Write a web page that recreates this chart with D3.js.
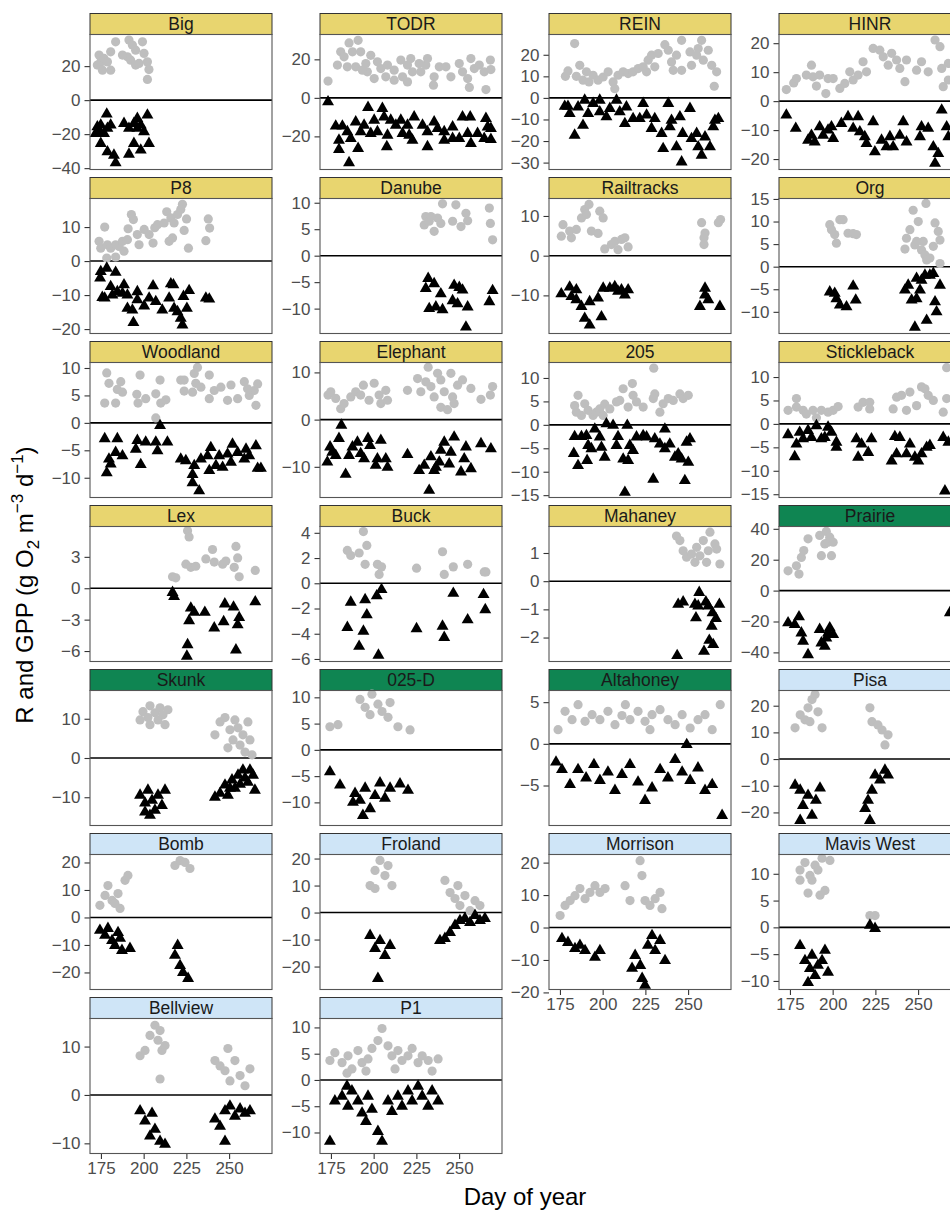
<!DOCTYPE html>
<html>
<head>
<meta charset="utf-8">
<script src="https://cdn.jsdelivr.net/npm/d3@7"></script>
<style>
  body { margin: 0; background: #fff; }
  text { font-family: "Liberation Sans", Arial, sans-serif; }
</style>
</head>
<body>
<svg id="chart" width="950" height="1211"></svg>
<script>
// ---- data: [day of year, g O2 m-3 d-1] ----
const sites = ["Big","TODR","REIN","HINR","P8","Danube","Railtracks","Org","Woodland","Elephant","205","Stickleback",
  "Lex","Buck","Mahaney","Prairie","Skunk","025-D","Altahoney","Pisa","Bomb","Froland","Morrison","Mavis West","Bellview","P1"];
const siteGroup = ["a","a","a","a","a","a","a","a","a","a","a","a","a","a","a","b","b","b","b","c","c","c","c","c","c","c"];
const groupFill = {a: "#E8D56F", b: "#0F8552", c: "#CFE5F7"};
const xLimits = [168.6, 275.1];
const xTicks = [175, 200, 225, 250];

const yLimits = [[-40.8,38.6],[-37.2,32.9],[-33.2,29.4],[-23.6,23],[-21.3,18.4],[-14.7,10.8],[-19.6,14.4],[-14.8,15.1],
  [-13.6,11],[-16.5,12.1],[-15.5,13.3],[-15.7,13.1],[-7,5.9],[-6.2,4.5],[-2.85,1.94],[-45.9,41.5],[-17.2,17.2],
  [-14.4,11.3],[-9.8,6.4],[-24.9,25.7],[-26.2,22.9],[-28.5,21.5],[-19.1,22.5],[-11.6,13.6],[-12.1,15.8],[-14,11.7]];
const yTicks = [[-40,-20,0,20],[-20,0,20],[-30,-20,-10,0,10,20],[-20,-10,0,10,20],[-20,-10,0,10],[-10,-5,0,5,10],
  [-10,0,10],[-10,-5,0,5,10,15],[-10,-5,0,5,10],[-10,0,10],[-15,-10,-5,0,5,10],[-15,-10,-5,0,5,10],[-6,-3,0,3],
  [-6,-4,-2,0,2,4],[-2,-1,0,1],[-40,-20,0,20,40],[-10,0,10],[-10,-5,0,5,10],[-5,0,5],[-20,-10,0,10,20],
  [-20,-10,0,10,20],[-20,-10,0,10,20],[-20,-10,0,10,20],[-10,-5,0,5,10],[-10,0,10],[-10,-5,0,5,10]];

const bigGPP = [[173.9,26.5],[174.9,22.5],[172.9,20.6],[176.8,24.5],[180.7,28.4],[183.6,34.3],[178.8,22.5],[175.9,17.6],[180.7,17.6],[191.4,35.3],[193.4,32.4],[195.3,29.4],[199.3,34.3],[190.5,25.5],[192.4,23.5],[195.3,20.6],[197.3,21.6],[200.2,27.5],[202.2,22.5],[203.1,18],[202.2,12.2],[187.6,26.5]];
const bigR = [[178.4,-8.2],[172.9,-15.7],[174.9,-14.7],[171.9,-19.6],[176.8,-19.6],[180.7,-14.7],[174.9,-25.5],[178.8,-30.4],[182.6,-32.4],[183.6,-36.9],[188.5,-13.7],[191.4,-16.6],[194.3,-13.7],[196.3,-10.8],[196.3,-16.6],[198.3,-14.7],[202.2,-8.8],[200.2,-18.6],[194.3,-25.5],[198.3,-29.4],[203.1,-25.5],[191.4,-31.8],[178.8,-16.6],[173.9,-18.6]];

const todrGPP = [[173.3,8.7],[180.7,23.9],[178.8,17],[182.7,21.3],[185.6,28.5],[190.9,29.9],[187.6,23.9],[192.4,23.9],[189.5,16.1],[195.4,17.8],[198.3,22.1],[196.3,13.5],[200.3,10],[204.2,15.2],[208.1,17],[207.1,10.9],[212,14.4],[212,9.2],[215.9,19.6],[219.8,17],[221.7,20.4],[219.8,8.3],[222.7,13.5],[227.6,13.5],[230.5,17],[231.5,20.4],[235.4,10.9],[235,6.6],[238.4,16.1],[242.3,16.1],[245.2,10.9],[250.1,17.8],[252,13.5],[255,10],[256,5.4],[256.9,20.4],[258.9,15.2],[261.8,17],[264.7,13.5],[265.7,4.3],[268.3,19.6],[268.6,14.7],[216.9,10.9],[202.2,18.7],[193.4,14.4],[184.6,16.1],[226.6,17.8]];
const todrR = [[173.3,-2.1],[177.8,-14.7],[181.7,-14.7],[179.7,-22],[179.7,-26.8],[185.6,-33.7],[186.6,-21.1],[189.5,-12.5],[190.9,-26.3],[192.4,-17.6],[194.4,-14.2],[196.7,-5],[198.3,-18.5],[200.3,-11.6],[205.1,-5.5],[206.1,-9.9],[208.1,-19.4],[207.7,-25.4],[210,-11.6],[213,-14.2],[215.9,-11.6],[216.9,-18.5],[219.8,-14.2],[222.7,-22],[223.7,-9.9],[228.6,-14.2],[231.5,-17.6],[231.5,-25.4],[235.4,-12.5],[237.4,-15.9],[241.3,-22],[241.3,-17.6],[246.2,-15.1],[250.1,-21.1],[252,-9.9],[256.5,-9.9],[255,-18.5],[256.9,-23.7],[260.8,-18.5],[265.7,-10.7],[266.7,-15.1],[268.6,-15.9],[268.6,-21.6],[264.7,-21.1],[184.6,-17.6],[202.2,-17.6],[220.8,-19.4],[246.2,-21.1]];

const reinGPP = [[178.2,10],[179.7,12.5],[183.6,25.2],[186.6,15.1],[184.6,10],[188.5,8.2],[192,7.4],[194.4,10.5],[197.3,8.2],[200.3,9.7],[203.2,12.1],[206.1,7.4],[207.1,4.3],[209,10.5],[212,12.1],[214.9,11.3],[217.8,12.1],[220.8,13.6],[223.7,14.4],[226.6,17.5],[228.6,19.8],[230.5,14.4],[232.5,20.6],[236.4,24.7],[238.4,22.1],[240.3,16.7],[241.3,12.8],[243.2,19.8],[246.2,26.7],[246.2,12.8],[251.1,21.3],[252,15.1],[255,19.8],[257.9,26.7],[258.9,17.5],[261.8,22.1],[263.8,15.1],[266.7,12.1],[265.3,5.4],[255.9,22.9],[225.7,12.1],[190.5,12.1]];
const reinR = [[177.8,-3.9],[180.7,-7.3],[179.7,-3.9],[183.6,-17.3],[185.6,-4.2],[188.5,-12.7],[189.5,-1.1],[191.5,-7.3],[194.4,-2.6],[198.3,-1.1],[198.3,-6.5],[202.2,-8.8],[204.2,-4.9],[208.1,-1.1],[210,-6.5],[213,-11.9],[213.9,-4.2],[217.8,-9.6],[221.7,-9.6],[223.7,-2.6],[225.7,-8],[228.6,-14.2],[230.5,-9.6],[234.5,-16.5],[235.4,-23.5],[238.4,-2.6],[240.3,-10.4],[239.3,-13.4],[243.2,-22.7],[245.2,-8.8],[246.2,-29.7],[246.8,-16.5],[251.1,-4.9],[252,-18.9],[255,-16.5],[255.9,-22.7],[257.9,-26.6],[259.9,-18.1],[262.8,-22.7],[264.7,-13.4],[267.7,-9.6],[265.7,-10.4]];

const hinrGPP = [[172.9,4],[177.2,6.3],[178.8,7.8],[187.6,12.4],[184.6,9],[188.5,8.4],[192.4,9],[190.5,5.2],[196,2.6],[197.3,7.8],[200.3,7.8],[204.2,4.4],[207.1,6.1],[210,10.1],[212,7.3],[214.9,9],[217.8,13.6],[219.8,10.1],[223.7,18.2],[227.6,17.6],[229.6,15.3],[232.5,12.4],[234.5,16.5],[237.4,14.2],[239.3,11.3],[242.3,6.7],[243.2,14.2],[249.1,10.7],[252,13.6],[255.9,10.1],[259.9,21.1],[262.8,18.8],[263.8,11.3],[264.7,5],[267.7,13],[267.7,7.3]];
const hinrR = [[172.9,-4.8],[178.4,-9.4],[185.6,-13.5],[187.6,-11.8],[189.5,-14.1],[192.4,-8.9],[194.4,-11.8],[197.3,-10],[199.3,-8.9],[200.3,-12.9],[205.1,-7.7],[209,-5.4],[212,-9.4],[214.9,-5.4],[215.9,-10.6],[218.8,-12.3],[219.8,-14.6],[223.7,-7.1],[224.7,-17.5],[228.6,-13.5],[231.5,-15.8],[233.5,-12.3],[235.4,-15.8],[239.3,-11.8],[241.3,-7.1],[243.2,-14.1],[251.1,-12.3],[252,-8.9],[255.9,-9.4],[258.9,-15.8],[259.9,-21.5],[261.8,-18.1],[263.8,-3.1],[266.7,-8.9],[267.7,-12.3]];

const p8GPP = [[173.9,5.8],[174.9,3.8],[177.2,10],[178.4,0.9],[178.8,4.8],[180.7,3.8],[183.6,1.2],[183.6,4.8],[185.6,4.3],[188.5,2.9],[187.6,5.8],[190.5,6.3],[190.9,9.5],[192.8,13.7],[194,12.2],[196.3,7.8],[197.3,4.8],[200.3,9.3],[203.2,7.8],[205.5,5.3],[206.5,9.8],[208.1,10.7],[212,11.2],[213.5,14.5],[215.9,12.7],[216.9,6.8],[217.8,11.2],[219.8,13.7],[222.7,16.7],[221.7,15.2],[223.7,9],[225.1,12.4],[226.2,3.8],[236.4,6],[237.8,12.4],[238.6,9.7],[214.9,5.8]];
const p8R = [[178.4,-2.1],[174.9,-3.1],[174.5,-5],[183.6,-3.3],[177.2,-10.9],[180.7,-7.5],[181.7,-10],[184.6,-9],[188.5,-7],[187.6,-9.5],[190.5,-10],[190.5,-13.9],[193.4,-14.4],[194,-18.1],[196.3,-9],[196.3,-11.4],[200.3,-13.2],[203.2,-10.9],[205.5,-7.3],[207.1,-11.9],[210.9,-14.4],[214.9,-10.9],[215.9,-6.7],[217.4,-7],[217.8,-13.9],[219.8,-14.9],[221.7,-16.8],[222.7,-18.8],[225.3,-13.9],[223.3,-10.4],[226.6,-8.7],[236.4,-10.9],[238.4,-11.2],[175.8,-10.7]];

const danubeGPP = [[230.5,7.4],[229.6,5.8],[232.5,6.5],[235.4,4.6],[237.4,7.1],[239.3,6.1],[240.3,9.8],[246.2,6.5],[248.1,9.6],[251.1,5.5],[254,8],[255,6.6],[267.7,9],[268.3,6.1],[269.6,3],[233.5,7.4]];
const danubeR = [[231.9,-4.3],[230.5,-6.2],[235.4,-5.3],[239.3,-7.2],[232.5,-10],[236.4,-9.7],[240.3,-10.2],[247.1,-5.6],[250.1,-6],[252,-6.5],[246.2,-8.5],[249.1,-9.1],[255,-9.7],[254,-13.5],[269.6,-6.6],[267.7,-8.7]];

const railGPP = [[176.8,7.8],[175.8,4.9],[180.7,6.2],[181.7,4.5],[184.6,6.6],[187.6,9.5],[189.5,11.6],[192,12.9],[190.5,10.4],[198.3,11.2],[200.3,9.5],[193.4,6.2],[197.3,5.6],[201.2,1.7],[205.1,2.8],[207.1,3.6],[209,1.5],[211,4.1],[213,4.5],[214.9,2.2],[257.9,8.3],[259.9,5.7],[259.3,4.5],[259.3,2.8],[267.7,8.3],[269,9.1]];
const railR = [[175.8,-9.6],[180.7,-7.9],[181.7,-10.3],[184.6,-8.6],[184.6,-11.1],[187.6,-12.8],[189.5,-15.8],[192.4,-17.5],[192.4,-11.6],[197.3,-10.7],[199.3,-15.4],[200.3,-8.2],[204.2,-8.2],[207.1,-7.8],[209,-9],[211,-8.6],[213,-9.9],[214.9,-8.6],[259.9,-8.2],[259.9,-9.9],[261.8,-11.1],[256.9,-12.8],[268.6,-12.8]];

const orgGPP = [[198.3,9.3],[199.3,8.2],[201.2,7.1],[202.2,5.2],[204.2,10.4],[206.1,10.4],[209,7.4],[212,7.3],[213.9,7.1],[242.3,3.9],[243.2,6.3],[245.2,8.2],[247.1,12.5],[248.1,4.8],[250.1,10],[252,3.7],[253,5.6],[254,2.6],[255,1.5],[256.9,1.9],[254.6,14],[258.9,4.5],[259.9,9.7],[261.8,7.8],[262.8,5.9],[262.8,0.7],[249.1,5.6]];
const orgR = [[198.3,-5.6],[201.2,-5.9],[202.2,-7.1],[204.2,-8.5],[208.1,-8.9],[212,-4.3],[213.5,-7.4],[242.3,-5.2],[244.2,-4.1],[246.2,-7.4],[248.1,-13.4],[249.1,-2.6],[251.1,-5.2],[252,-3],[254,-1.9],[255,-11.9],[256.9,-1.9],[258.9,-1.5],[259.9,-7.8],[260.8,-10],[262.8,-4.1],[249.1,-7.1]];

const woodGPP = [[178.4,9.1],[177.2,3.6],[179.7,7.2],[183.6,3.6],[184.6,6.1],[186.6,7.5],[187.6,5.6],[196,5.2],[197.9,8.7],[196.7,3.6],[201.2,4.4],[207.1,5.3],[209.6,7.8],[207.1,0.9],[210,3.6],[213,4.2],[221.7,7.8],[223.7,5.8],[228.6,5.6],[229.6,9],[231.5,10.1],[230.5,7.2],[233.5,6.5],[238.4,8.7],[238.4,4.4],[241.3,5.9],[245.2,6.5],[249.1,4.1],[251.1,6.9],[255,4.4],[258.9,7.5],[261.8,5],[264.7,5.9],[265.7,3.2],[266.7,7.1],[260.8,6.2],[223.7,7.8]];
const woodR = [[177.2,-2.9],[179.7,-6.6],[180.7,-7.5],[178.4,-9.1],[183.6,-5.4],[184.6,-2.9],[187.6,-6],[195.4,-4.8],[196.3,-3.2],[198.3,-7.6],[201.2,-3.5],[207.1,-3.5],[209.6,-0.5],[208.1,-5.1],[213.9,-3.5],[221.7,-6.6],[224.7,-6.9],[229.6,-7.8],[228.6,-9.4],[228.6,-10.9],[232.5,-12.4],[233.5,-6.6],[237.4,-6],[239.3,-4.5],[238.4,-8.7],[242.3,-7.8],[244.2,-6],[246.2,-8.1],[249.1,-5.7],[251.1,-7.2],[252,-3.9],[255,-5.4],[258.9,-6.6],[259.9,-4.8],[261.8,-6],[265.7,-4.2],[266.7,-8.3],[268.6,-8.3]];

const elephGPP = [[173.3,5.2],[174.9,5.9],[177.8,4.5],[180.7,2.3],[182.7,3.4],[186.6,4.8],[189.5,5.9],[194,7.3],[192.4,5.2],[197.3,4.1],[200.3,7.7],[203.2,5.2],[204.2,3.4],[207.1,6.2],[208.1,4.1],[219.8,6.2],[225.7,8.7],[227.6,5.9],[231.9,11.1],[230.5,8],[233.5,7],[235.4,4.8],[237.4,9.8],[239.3,8.4],[241.3,5.9],[239.3,2.6],[243.2,2.1],[245.2,9.8],[246.2,4.8],[249.1,7.3],[252,8.4],[256.9,6.6],[262.8,4.3],[268.3,5.2],[269.6,7],[247.1,3.4]];
const elephR = [[172.9,-9],[174.5,-5.8],[175.8,-6.9],[177.8,-7.6],[179.7,-4],[181.1,-1.2],[183.6,-11.6],[185.6,-7.6],[187.6,-5.8],[190.5,-4.8],[192.4,-7.2],[194.4,-8.3],[196.7,-4],[197.9,-5.5],[201.2,-9.7],[202.2,-8.3],[204.2,-4.4],[207.1,-8.3],[208.1,-10.1],[219.8,-7.4],[226.6,-10.8],[229.6,-9.7],[232.5,-15],[233.5,-7.9],[235.4,-10.8],[238.4,-9],[239.3,-6.5],[241.3,-4.8],[244.2,-9.4],[245.2,-6.9],[247.1,-3.7],[253,-8.3],[254,-5.8],[251.1,-11.1],[256.9,-10.4],[262.8,-5.1],[268.6,-6.2],[236.4,-10.1]];

const s205GPP = [[183.6,4.1],[185.6,6.3],[184.6,2.7],[189.5,4.5],[191.5,3.1],[194.4,2],[196.3,2.7],[198.3,3.4],[201.2,4.4],[204.2,3.4],[208.1,4.9],[212,7.7],[214.9,3.8],[217.4,8.8],[217.8,6.3],[219.8,4.9],[223.7,3.8],[229.9,12.1],[230.5,6.6],[229.6,5.6],[233.5,2.7],[235.4,4.5],[238.4,5.6],[241.3,5.2],[245.2,6.6],[247.1,5.6],[250.1,6.3],[187.6,2],[200.3,2],[210,5.2]];
const s205R = [[183.6,-2.5],[183.1,-6.1],[185.6,-8.7],[187.6,-2.5],[190.5,-2.3],[191.5,-4.4],[193.4,-5.1],[190.9,-7.6],[195.4,-0.9],[198.3,-2.6],[199.3,-4.8],[201.2,-6.9],[202.2,0.2],[206.1,-0.1],[209,-2.5],[208.1,-4.4],[212,-7.3],[214.4,-0.1],[214.9,-7.6],[213,-14.4],[215.9,-4.4],[217.8,-5.5],[219.8,-2.6],[223.7,-2.3],[225.7,-2.6],[229.6,-11.6],[230.5,-3],[233.5,-4.1],[236.4,-0.9],[236.4,-5.1],[239.3,-4.1],[242.3,-6.9],[244.2,-6.2],[246.2,-7.3],[248.1,-11.9],[249.1,-3.7],[251.1,-3],[250.1,-8]];

const stickGPP = [[173.9,2.9],[178.8,5.4],[178.8,3.6],[182.7,2.9],[184.6,2.1],[188.5,2.9],[190.5,1.3],[193.4,2.9],[197.3,2.5],[200.3,2.9],[203.2,3.7],[214.9,3.6],[217.8,4.6],[221.7,3.2],[221.7,4.6],[235.4,3.2],[237.4,5.7],[240.3,6.1],[243.2,2.9],[245.2,6.8],[249.1,3.9],[252,7.9],[254,7.5],[255.9,6.1],[258.9,5],[264.7,2.5],[266.7,5.4],[266.7,12]];
const stickR = [[173.9,-2.3],[177.8,-7],[178.8,-4.3],[180.7,-1.8],[182.7,-3.2],[185.6,-1.4],[187.6,-2.9],[190.5,-0.4],[193.4,-3.2],[195.4,-2.9],[197.3,-0.7],[199.3,-1.8],[202.2,-5],[202.2,-3.9],[213.9,-3.2],[214.9,-7.1],[216.9,-4.3],[220.8,-6.1],[222.7,-3.2],[234.5,-7.9],[236.4,-2.7],[237.4,-6.4],[239.3,-2.9],[243.2,-6.4],[245.2,-4.3],[248.1,-7.1],[250.1,-7.9],[252,-6.4],[255,-5],[256.9,-4.6],[264.7,-2.9],[267.7,-3.9],[265.7,-14.3]];

const lexGPP = [[216.9,1.1],[218.8,1],[225.7,5.5],[226.6,4.9],[224.7,2.3],[227.6,2],[230.5,2.1],[236.4,2.8],[240.3,3.7],[241.3,2.5],[246.2,2.3],[248.1,2.6],[254,4],[255,2.9],[253,2],[255.9,1.1],[265.3,1.7]];
const lexR = [[216.9,-0.4],[217.8,-0.8],[227.6,-1.9],[229.6,-2.3],[226.6,-3.1],[235.8,-2.3],[241.3,-3.8],[246.8,-3.2],[247.5,-1.5],[252.6,-1.8],[255.9,-2.8],[255,-3.5],[225.7,-5.4],[225.3,-6.5],[254,-5.9],[265.3,-1.3]];

const buckGPP = [[184.6,2.6],[186.6,2.2],[191.5,2.4],[194,4.1],[196,3],[195,1.5],[202.2,1.5],[204.6,1.3],[203.2,0.7],[225.1,1.2],[240.3,2.5],[241.3,0.7],[246.6,1.3],[255,1.5],[264.7,0.9],[265.7,0.9]];
const buckR = [[186.6,-1.5],[184.6,-3.5],[191.5,-5],[194,-3.8],[195,-1.3],[196,-2.5],[201.8,-1],[204.6,-0.5],[202.8,-5.7],[225.1,-3.6],[240.3,-3.4],[241.3,-4.3],[246.6,-0.8],[255,-2.9],[264.3,-0.9],[265.3,-2.1]];

const mahGPP = [[243.2,1.6],[245.2,1.44],[247.1,1.08],[249.1,0.85],[254,0.67],[255,1.2],[256.9,0.9],[258.9,1.44],[260.8,0.67],[261.8,1.08],[262.8,1.74],[265.7,1.32],[266.7,1.14],[268.6,0.61],[252,0.96]];
const mahR = [[244.2,-0.82],[247.1,-0.74],[254,-0.82],[256.5,-0.4],[255.9,-0.88],[260.4,-0.74],[261.8,-0.88],[264.3,-1.12],[266.3,-1.33],[268.3,-0.82],[263.8,-1.6],[254.6,-1.3],[262.4,-2.1],[264.7,-2.25],[259.3,-2.49],[243.6,-2.64]];

const prairieGPP = [[173.9,12.8],[178.8,16.1],[180.3,10.7],[181.7,21.5],[183.1,25.9],[185.6,33.5],[192.4,35.7],[196.3,38.3],[193.4,22.6],[195.4,30.2],[197.3,31.3],[199.3,22.6],[200.3,31.3],[198.3,34.6]];
const prairieR = [[173.9,-20.9],[177.8,-22],[180.3,-17],[181.7,-27.4],[182.7,-32.8],[185.6,-41.5],[192.4,-25.2],[193.4,-33.9],[195.4,-36.1],[197.3,-27.4],[198.3,-24.1],[200.3,-28.5],[196.3,-30.7],[268.6,-14.3]];

const skunkGPP = [[199.6,11.8],[202.5,10.3],[203.7,13.3],[206.6,11.5],[208.4,9.7],[209.6,12.8],[211.3,11],[212.5,8.5],[214.2,12.3],[203.7,8.5],[197.9,9.7],[241.7,5.9],[244.7,9.2],[247.6,10.3],[250.5,7.2],[252.3,4.6],[255.2,7.7],[256.4,3.3],[258.1,5.9],[259.3,1.5],[261,9.2],[262.2,4.6],[263.4,0.8],[253.4,9.7],[249.3,2.6]];
const skunkR = [[197.9,-9.5],[200.8,-11.5],[202.5,-8.2],[204.9,-10.8],[206.6,-13.3],[208.4,-9.5],[210.7,-12.1],[212.5,-8.2],[203.7,-14.6],[200.8,-13.8],[241.7,-10],[244.7,-9],[247.6,-6.9],[249.3,-9.5],[251.7,-5.6],[253.4,-7.7],[255.2,-4.4],[256.4,-6.7],[258.1,-3.1],[259.3,-5.1],[261,-6.2],[262.2,-3.1],[264,-4.4],[265.1,-8.2],[250.5,-7.7]];

const d025GPP = [[174.4,4.4],[179.1,4.8],[192,9.6],[195,8.1],[197.9,6.7],[199,10.6],[202.5,8.7],[204.9,7.3],[208.4,6.2],[209.6,9],[214.2,4.4],[221.3,3.8]];
const d025R = [[174.4,-4.2],[180.3,-6.7],[189.1,-8.3],[192,-9.6],[195,-7.3],[197.9,-11.2],[200.8,-8.7],[203.7,-6.3],[206.6,-9.2],[209.6,-7.3],[215.4,-6.5],[220.1,-7.7],[193.7,-12.5],[187.9,-10]];

const altaGPP = [[173.9,1.7],[178,3.9],[182.1,2.9],[185.6,4.7],[189.7,2.7],[193.8,3.5],[198.4,2.9],[203.1,3.9],[207.2,2.3],[211.3,3.4],[216,2.9],[220.7,3.9],[224.8,2.7],[228.9,3.5],[233.6,4.1],[238.2,2.9],[242.4,2.3],[246.5,3.5],[251.2,1.9],[255.8,2.9],[259.9,3.5],[264.1,1.7],[268.8,4.7],[213.3,4.7],[227.7,1.7]];
const altaR = [[172.7,-2.2],[176.2,-3.1],[180.9,-4.9],[185.6,-3.1],[190.3,-4.1],[194.9,-2.5],[198.4,-4.4],[203.1,-3.4],[207.2,-5.6],[211.3,-3.7],[216,-2.5],[220.7,-4.6],[224.8,-6.8],[228.9,-5.3],[233.6,-3.1],[238.2,-4.1],[242.4,-1.9],[246.5,-3.4],[251.2,-4.4],[255.8,-2.9],[259.9,-5.6],[264.1,-4.9],[269.9,-8.6],[249.2,-0.1]];

const pisaGPP = [[178,11.7],[181,16.6],[183.8,14.7],[185.6,19.2],[187.9,22.3],[189.7,24.2],[191.4,17.7],[193.8,11.7],[186.7,14],[221.8,19.2],[223,14],[226.5,12.8],[228.9,10.9],[232.4,9.1],[230.6,5.3]];
const pisaR = [[178,-9.8],[181,-11.7],[182.6,-17.4],[185.6,-13.6],[187.9,-21.1],[190.2,-15.5],[192.6,-10.9],[181,-23],[219,-18.5],[220.7,-15.5],[223,-11.7],[224.8,-6],[227.7,-7.9],[230.6,-4.2],[232.4,-6],[221.8,-23]];

const bombGPP = [[174.4,4.4],[177.4,8],[179.1,11.6],[181.5,6.2],[183.2,5.1],[185,8.7],[186.2,3.3],[189.1,13.5],[190.8,15.3],[218.3,18.9],[221.3,20.7],[224.2,20],[227.1,17.8]];
const bombR = [[174.4,-4.7],[177.4,-6.5],[179.1,-4],[181.5,-8.4],[183.2,-10.2],[185,-5.5],[186.2,-7.6],[187.3,-12],[192,-11.3],[218.3,-13.8],[221.3,-17.5],[223,-20],[226,-22.2],[219.9,-10.2]];

const frolGPP = [[197.9,10],[200.8,15.6],[203.7,19.3],[206.6,13.7],[208.4,17.4],[210.7,10],[200.8,8.9],[241.7,11.9],[244.7,7.4],[247.6,5.2],[250.5,2.6],[253.4,6.3],[256.4,0.7],[259.3,4.4],[262.2,2.6],[249.3,10]];
const frolR = [[197.9,-8.5],[200.8,-13.3],[203.7,-10.4],[206.6,-15.9],[209.6,-12.2],[202.5,-24.4],[241.7,-9.6],[244.7,-7.4],[247.6,-4.8],[250.5,-3],[253.4,-2.2],[256.4,-3.7],[259.3,-1.1],[262.2,-3],[265.1,-2.2],[238.8,-10.4]];

const morrGPP = [[178,6.8],[181,8.3],[183.8,9.8],[186.7,12],[189.7,8.9],[192.6,10.8],[195.5,12.9],[198.4,10.8],[201.4,12],[175.1,3.7],[213.1,12.9],[216,8.3],[221.9,20.6],[223,16],[224.8,8.3],[227.7,6.8],[230.7,8.9],[233.6,10.8],[234.7,5.8]];
const morrR = [[176.2,-3.4],[179.7,-4.6],[183.8,-6.5],[186.7,-5.5],[189.7,-7.1],[195.5,-9.2],[198.4,-7.1],[219,-8.6],[222,-11.7],[223.1,-15.7],[224.8,-17.8],[226.5,-5.5],[228.9,-2.5],[230.7,-7.1],[233.6,-4],[236.5,-10.2],[217.2,-12.6]];

const mavisGPP = [[180.9,10.7],[183.8,12.1],[186.7,9.7],[187.9,8.8],[189.7,11.6],[191.4,10.7],[193.8,12.9],[195.5,6.9],[185.6,6.4],[192.6,6],[198.4,12.5],[180.9,8.8],[221.8,2.2],[224.8,2.2]];
const mavisR = [[180.9,-3.4],[183.8,-6.2],[186.7,-7.7],[187.9,-5.2],[189.7,-9],[191.4,-7.1],[193.8,-6.2],[195.5,-4.3],[185.6,-10.3],[197.3,-8.4],[221.8,0.4],[224.8,-0.2]];

const bellGPP = [[197.9,8.1],[200.8,9.2],[203.7,12.3],[206.6,14.4],[208.4,11.3],[209.6,13.3],[210.7,9.2],[212.5,10.2],[209.6,3.3],[241.7,7.1],[244.7,6],[247.6,5],[250.5,2.9],[253.4,7.1],[256.4,4],[259.3,1.9],[262.2,5.4],[249.3,9.6]];
const bellR = [[197.9,-3.3],[200.8,-5.4],[203.7,-8.5],[206.6,-7.1],[209.6,-9.6],[212.5,-10.2],[204.9,-3.8],[241.7,-5],[244.7,-6.5],[247.6,-3.3],[250.5,-2.3],[253.4,-4.4],[256.4,-2.9],[259.3,-3.8],[262.2,-3.3],[247.6,-9.6]];

const p1GPP = [[174.4,3.7],[177.3,5.2],[181.5,3.3],[185,4.6],[187.3,2.1],[190.8,5.6],[193.2,3.3],[196.7,4],[199,6],[202.5,7.5],[204.9,9.8],[208.4,6.5],[210.7,4.6],[214.2,5.6],[216.6,3.7],[220.1,4.6],[222.5,6],[226,3.3],[228.4,4.6],[231.9,3.7],[234.2,1.7],[237.7,4],[184.4,1.3],[195.5,1.7],[212.5,2.1]];
const p1R = [[174.4,-11.7],[177.3,-4],[181.5,-3.1],[185,-5],[187.3,-2.1],[190.8,-4],[193.2,-6.3],[196.7,-3.1],[199,-5.6],[202.5,-9.8],[204.9,-11.7],[208.4,-4],[210.7,-6],[214.2,-3.1],[216.6,-5],[220.1,-2.1],[222.5,-4],[226,-1.2],[228.4,-3.1],[231.9,-5],[234.2,-2.1],[237.7,-4],[184.4,-1.2],[195.5,-7.9]];

const gppSeries = [bigGPP,todrGPP,reinGPP,hinrGPP,p8GPP,danubeGPP,railGPP,orgGPP,woodGPP,elephGPP,s205GPP,stickGPP,
  lexGPP,buckGPP,mahGPP,prairieGPP,skunkGPP,d025GPP,altaGPP,pisaGPP,bombGPP,frolGPP,morrGPP,mavisGPP,bellGPP,p1GPP];
const rSeries = [bigR,todrR,reinR,hinrR,p8R,danubeR,railR,orgR,woodR,elephR,s205R,stickR,
  lexR,buckR,mahR,prairieR,skunkR,d025R,altaR,pisaR,bombR,frolR,morrR,mavisR,bellR,p1R];

// bottom panel of each column carries the x axis
const xAxisPanels = ["Bellview", "P1", "Morrison", "Mavis West"];

// ---- layout ----
const svg = d3.select("#chart");
const colX = [90, 320, 549, 779];
const panelW = 182, stripH = 21, bodyH = 135, rowStep = 164, top0 = 13.5;
const ncol = 4;
const font = "'Liberation Sans', Arial, sans-serif";
const minus = d => d < 0 ? "\u2212" + Math.abs(d) : String(d);

const x = d3.scaleLinear().domain(xLimits).range([0, panelW]);
const tri = d3.symbol(d3.symbolTriangle, 62);

sites.forEach((site, i) => {
  const col = i % ncol, row = Math.floor(i / ncol);
  const g = svg.append("g").attr("transform", `translate(${colX[col]},${top0 + row * rowStep})`);

  // strip
  g.append("rect").attr("width", panelW).attr("height", stripH)
    .attr("fill", groupFill[siteGroup[i]]).attr("stroke", "#333").attr("stroke-width", 1);
  g.append("text").attr("x", panelW / 2).attr("y", stripH / 2 + 6.2)
    .attr("text-anchor", "middle").attr("font-size", 17.5).attr("fill", "#1a1a1a").text(site);

  const body = g.append("g").attr("transform", `translate(0,${stripH})`);
  const y = d3.scaleLinear().domain(yLimits[i]).range([bodyH, 0]);

  body.append("rect").attr("width", panelW).attr("height", bodyH).attr("fill", "#fff");

  // y axis
  const ya = body.append("g").call(d3.axisLeft(y).tickValues(yTicks[i]).tickSize(5.5).tickPadding(4).tickFormat(minus));
  ya.select(".domain").remove();
  ya.selectAll("line").attr("stroke", "#333").attr("stroke-width", 1.1);
  ya.selectAll("text").attr("font-size", 17).attr("fill", "#4d4d4d").style("font-family", font);

  if (xAxisPanels.includes(site)) {
    const xa = body.append("g").attr("transform", `translate(0,${bodyH})`)
      .call(d3.axisBottom(x).tickValues(xTicks).tickSize(5.5).tickPadding(3));
    xa.select(".domain").remove();
    xa.selectAll("line").attr("stroke", "#333").attr("stroke-width", 1.1);
    xa.selectAll("text").attr("font-size", 17).attr("fill", "#4d4d4d").style("font-family", font);
  }

  // zero line
  body.append("line").attr("x1", 0).attr("x2", panelW).attr("y1", y(0)).attr("y2", y(0))
    .attr("stroke", "#000").attr("stroke-width", 1.6);

  body.selectAll("circle.gpp").data(gppSeries[i]).join("circle").attr("class", "gpp")
    .attr("cx", d => x(d[0])).attr("cy", d => y(d[1])).attr("r", 4.6).attr("fill", "#bebebe");

  body.selectAll("path.r").data(rSeries[i]).join("path").attr("class", "r")
    .attr("d", tri).attr("transform", d => `translate(${x(d[0])},${y(d[1])})`).attr("fill", "#000");

  body.append("rect").attr("width", panelW).attr("height", bodyH)
    .attr("fill", "none").attr("stroke", "#555").attr("stroke-width", 1.1);
});

// axis titles
svg.append("text").attr("x", 525).attr("y", 1205).attr("text-anchor", "middle")
  .attr("font-size", 24).attr("fill", "#000").text("Day of year");

const yt = svg.append("text").attr("transform", "translate(33,585) rotate(-90)")
  .attr("text-anchor", "middle").attr("font-size", 24).attr("fill", "#000");
yt.append("tspan").text("R and GPP (g O");
yt.append("tspan").attr("font-size", 17).attr("dy", 6).text("2");
yt.append("tspan").attr("dy", -6).text(" m");
yt.append("tspan").attr("font-size", 17).attr("dy", -10).text("\u22123");
yt.append("tspan").attr("dy", 10).text(" d");
yt.append("tspan").attr("font-size", 17).attr("dy", -10).text("\u22121");
yt.append("tspan").attr("dy", 10).text(")");
</script>
</body>
</html>
